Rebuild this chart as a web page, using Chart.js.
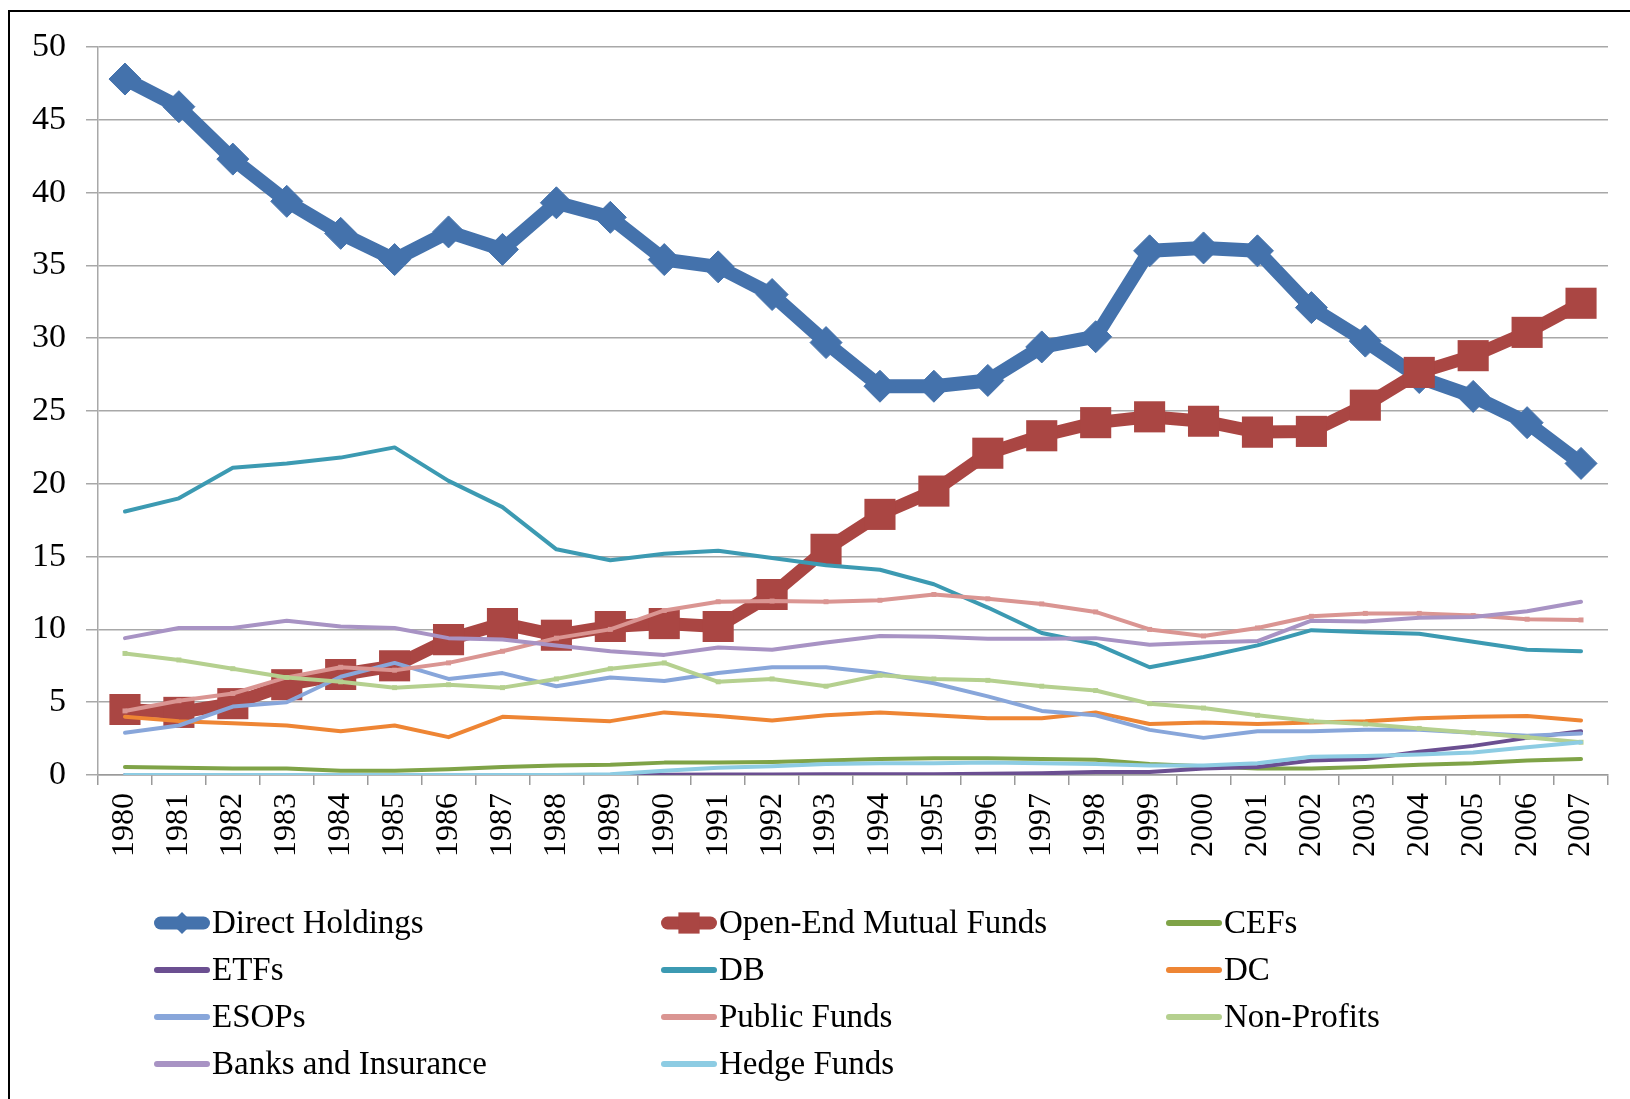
<!DOCTYPE html>
<html>
<head>
<meta charset="utf-8">
<script src="https://cdn.jsdelivr.net/npm/chart.js@4.4.0/dist/chart.umd.min.js"></script>
<style>
  html, body { margin: 0; padding: 0; background: #fff; }
  #wrap { position: relative; width: 1630px; height: 1099px; overflow: hidden; }
  #frame { position: absolute; left: 8px; top: 10px; width: 1700px; height: 1200px;
           border-left: 2.5px solid #000; border-top: 2.5px solid #000; pointer-events: none; }
  canvas { position: absolute; left: 0; top: 0; }
</style>
</head>
<body>
<div id="wrap">
  <canvas id="c" width="1630" height="1099"></canvas>
  <div id="frame"></div>
</div>
<script>
const years = ['1980','1981','1982','1983','1984','1985','1986','1987','1988','1989',
               '1990','1991','1992','1993','1994','1995','1996','1997','1998','1999',
               '2000','2001','2002','2003','2004','2005','2006','2007'];

const directHoldings = [47.8, 45.9, 42.3, 39.4, 37.2, 35.4, 37.3, 36.1, 39.3, 38.3,
                        35.4, 34.9, 33.0, 29.7, 26.7, 26.7, 27.1, 29.4, 30.1, 36.0,
                        36.2, 36.0, 32.1, 29.8, 27.3, 26.0, 24.2, 21.4];
const openEndMutualFunds = [4.5, 4.3, 4.9, 6.2, 6.9, 7.5, 9.3, 10.4, 9.6, 10.2,
                            10.4, 10.2, 12.4, 15.5, 17.9, 19.5, 22.1, 23.3, 24.2, 24.6,
                            24.3, 23.55, 23.6, 25.4, 27.65, 28.8, 30.4, 32.4];
const cefs = [0.55, 0.5, 0.45, 0.45, 0.3, 0.3, 0.4, 0.55, 0.65, 0.7,
              0.85, 0.85, 0.9, 1.0, 1.1, 1.15, 1.15, 1.1, 1.05, 0.75,
              0.6, 0.45, 0.45, 0.55, 0.7, 0.8, 1.0, 1.1];
const etfs = [0, 0, 0, 0, 0, 0, 0, 0, 0, 0,
              0.02, 0.03, 0.04, 0.05, 0.05, 0.06, 0.08, 0.12, 0.2, 0.2,
              0.45, 0.55, 1.0, 1.1, 1.6, 2.0, 2.55, 3.0];
const db = [18.1, 19.0, 21.1, 21.4, 21.8, 22.5, 20.2, 18.4, 15.5, 14.75,
            15.2, 15.4, 14.9, 14.4, 14.1, 13.1, 11.5, 9.75, 9.0, 7.4,
            8.1, 8.9, 9.95, 9.8, 9.7, 9.15, 8.6, 8.5];
const dc = [4.0, 3.7, 3.55, 3.4, 3.0, 3.4, 2.6, 4.0, 3.85, 3.7,
            4.3, 4.05, 3.75, 4.1, 4.3, 4.1, 3.9, 3.9, 4.3, 3.5,
            3.6, 3.5, 3.6, 3.7, 3.9, 4.0, 4.05, 3.75];
const esops = [2.9, 3.4, 4.7, 5.0, 6.75, 7.7, 6.6, 7.0, 6.1, 6.7,
               6.45, 7.0, 7.4, 7.4, 7.0, 6.3, 5.4, 4.4, 4.1, 3.1,
               2.55, 3.0, 3.0, 3.1, 3.1, 2.9, 2.7, 2.85];
const publicFunds = [4.4, 5.1, 5.6, 6.7, 7.4, 7.2, 7.7, 8.5, 9.4, 10.0,
                     11.3, 11.9, 11.95, 11.9, 12.0, 12.4, 12.1, 11.75, 11.2, 10.0,
                     9.55, 10.1, 10.9, 11.1, 11.1, 10.95, 10.7, 10.65];
const nonProfits = [8.35, 7.9, 7.3, 6.7, 6.4, 6.0, 6.2, 6.0, 6.6, 7.3,
                    7.7, 6.4, 6.6, 6.1, 6.85, 6.6, 6.5, 6.1, 5.8, 4.9,
                    4.6, 4.1, 3.7, 3.5, 3.2, 2.9, 2.6, 2.25];
const banksInsurance = [9.4, 10.1, 10.1, 10.6, 10.2, 10.1, 9.4, 9.3, 8.9, 8.5,
                        8.25, 8.75, 8.6, 9.1, 9.55, 9.5, 9.35, 9.35, 9.4, 8.95,
                        9.1, 9.2, 10.6, 10.55, 10.8, 10.85, 11.25, 11.9];
const hedgeFunds = [0, 0, 0, 0, 0, 0, 0, 0, 0, 0.05,
                    0.3, 0.5, 0.6, 0.75, 0.8, 0.8, 0.85, 0.8, 0.75, 0.65,
                    0.65, 0.8, 1.25, 1.3, 1.4, 1.55, 1.9, 2.25];

const seriesNames = ['Direct Holdings', 'Open-End Mutual Funds', 'CEFs', 'ETFs', 'DB', 'DC',
                     'ESOPs', 'Public Funds', 'Non-Profits', 'Banks and Insurance', 'Hedge Funds'];
const seriesValues = [directHoldings, openEndMutualFunds, cefs, etfs, db, dc,
                      esops, publicFunds, nonProfits, banksInsurance, hedgeFunds];
const seriesColors = ['#4472AC', '#AA4643', '#7FA347', '#6B4F91', '#3C9AB2', '#EE8534',
                      '#88A6DA', '#DA9592', '#B5D08F', '#A893C4', '#8DCCE3'];
const yTicks = [0, 5, 10, 15, 20, 25, 30, 35, 40, 45, 50];

const FONT = "'Liberation Serif', 'Times New Roman', serif";
const N = seriesNames.length;

const datasets = seriesNames.map((name, i) => {
  const base = {
    label: name,
    data: seriesValues[i],
    borderColor: seriesColors[i],
    backgroundColor: seriesColors[i],
    fill: false,
    tension: 0,
    borderJoinStyle: 'round',
    borderCapStyle: 'round',
    order: N - i
  };
  if (i === 0) {
    return Object.assign(base, { borderWidth: 14, pointStyle: 'rectRot', pointRadius: 16,
      pointBorderWidth: 1, pointBorderColor: seriesColors[i], pointBackgroundColor: seriesColors[i] });
  }
  if (i === 1) {
    return Object.assign(base, { borderWidth: 13, pointStyle: 'rect', pointRadius: 22,
      pointBorderWidth: 0, pointBackgroundColor: seriesColors[i] });
  }
  if (name === 'Public Funds' || name === 'Non-Profits') {
    return Object.assign(base, { borderWidth: 4, pointStyle: 'rect', pointRadius: 3.5,
      pointBorderWidth: 0, pointBackgroundColor: seriesColors[i] });
  }
  return Object.assign(base, { borderWidth: 4, pointRadius: 0 });
});

const legendCols = [154, 661, 1166];
const legendRows = [923, 970, 1017, 1064];

const gridLegend = {
  id: 'gridLegend',
  afterDraw(chart) {
    const ctx = chart.ctx;
    ctx.save();
    chart.data.datasets.forEach((ds, i) => {
      const x0 = legendCols[i % 3];
      const y = legendRows[Math.floor(i / 3)];
      const len = 56;
      ctx.strokeStyle = ds.borderColor;
      ctx.fillStyle = ds.borderColor;
      ctx.lineCap = 'round';
      ctx.lineWidth = (i < 2) ? 13 : 6;
      ctx.beginPath();
      ctx.moveTo(x0 + ctx.lineWidth / 2, y);
      ctx.lineTo(x0 + len - ctx.lineWidth / 2, y);
      ctx.stroke();
      if (i === 0) {
        Chart.helpers.drawPoint(ctx, { pointStyle: 'rectRot', radius: 11, rotation: 0, borderWidth: 0 }, x0 + len / 2, y);
      } else if (i === 1) {
        Chart.helpers.drawPoint(ctx, { pointStyle: 'rect', radius: 15, rotation: 0, borderWidth: 0 }, x0 + len / 2, y);
      }
      ctx.fillStyle = '#000';
      ctx.font = "33px " + FONT;
      ctx.textBaseline = 'middle';
      ctx.textAlign = 'left';
      ctx.fillText(ds.label, x0 + len + 2, y + 1);
    });
    ctx.restore();
  }
};

new Chart(document.getElementById('c'), {
  type: 'line',
  data: { labels: years, datasets: datasets },
  plugins: [gridLegend],
  options: {
    responsive: false,
    animation: false,
    devicePixelRatio: 1,
    layout: { padding: { top: 47, right: 13, bottom: 0, left: 0 } },
    plugins: { legend: { display: false }, tooltip: { enabled: false } },
    scales: {
      x: {
        type: 'category',
        offset: true,
        afterFit: (s) => { s.height = 324; },
        grid: { display: true, drawOnChartArea: false, drawTicks: true, tickLength: 10,
                color: '#9a9a9a', lineWidth: 1.5, offset: true },
        border: { display: true, color: '#9a9a9a', width: 1.5 },
        ticks: { autoSkip: false, minRotation: 90, maxRotation: 90, padding: 8, color: '#000',
                 font: { family: FONT, size: 32 } }
      },
      y: {
        min: 0, max: 50,
        afterFit: (s) => { s.width = 98; },
        afterBuildTicks: (s) => { s.ticks = yTicks.map(v => ({ value: v })); },
        grid: { color: '#a8a8a8', lineWidth: 1.5, tickLength: 12 },
        border: { display: true, color: '#a8a8a8', width: 1.5 },
        ticks: { padding: 20, color: '#000', font: { family: FONT, size: 34 } }
      }
    }
  }
});
</script>
</body>
</html>
